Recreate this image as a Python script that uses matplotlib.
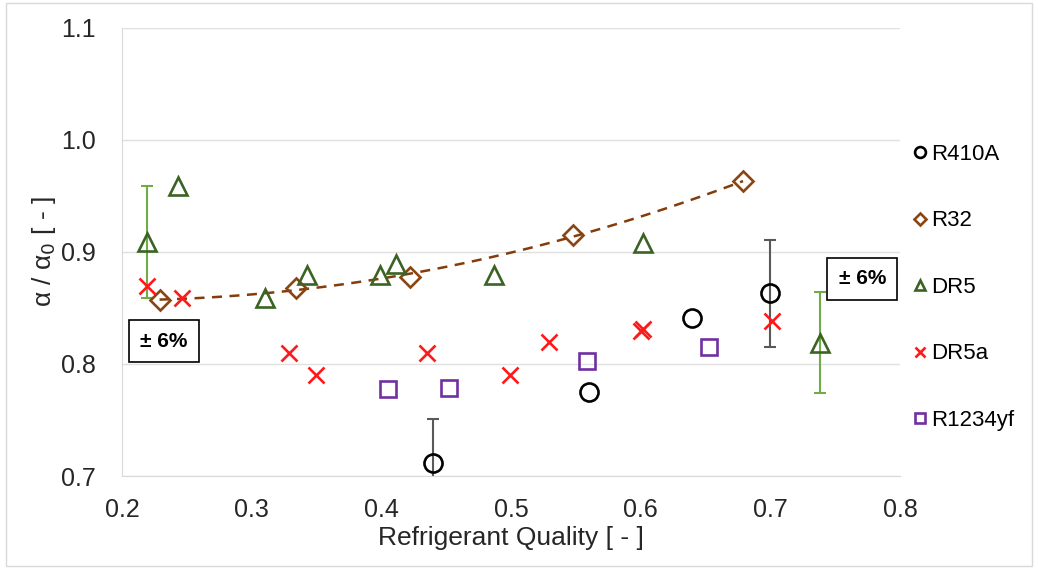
import matplotlib
matplotlib.use('Agg')
import matplotlib.pyplot as plt
import numpy as np
from matplotlib.patches import Rectangle

plt.rcParams['font.family'] = ['Liberation Sans', 'DejaVu Sans']

######################################################################

# DATA

r410a_x = [0.44, 0.56, 0.64, 0.70]
r410a_y = [0.712, 0.775, 0.841, 0.863]

r32_x = [0.229, 0.334, 0.422, 0.548, 0.679]
r32_y = [0.857, 0.868, 0.878, 0.915, 0.963]

dr5_x = [0.219, 0.243, 0.310, 0.343, 0.399, 0.411, 0.487, 0.602, 0.738]
dr5_y = [0.909, 0.959, 0.859, 0.879, 0.879, 0.889, 0.879, 0.908, 0.819]

dr5a_x = [0.219, 0.246, 0.329, 0.350, 0.435, 0.499, 0.529, 0.600, 0.602, 0.701]
dr5a_y = [0.870, 0.859, 0.810, 0.790, 0.810, 0.790, 0.820, 0.829, 0.831, 0.838]

r1234yf_x = [0.405, 0.452, 0.559, 0.653]
r1234yf_y = [0.778, 0.779, 0.803, 0.815]

# points that carry the +/- 6% error bars (index into series)
r410a_err_idx = [0, 3]
dr5_err_idx = [0, 8]
err_frac = 0.055

######################################################################

fig = plt.figure(figsize=(10.38, 5.69), dpi=100)
ax = fig.add_axes([0.1175, 0.1634, 0.7495, 0.7876])

# outer frame of the picture
fig.patches.append(Rectangle((0.006, 0.006), 0.988, 0.988, transform=fig.transFigure,
                             fill=False, edgecolor='#D9D9D9', linewidth=1.0))

mk = dict(linestyle='none', markerfacecolor='none', markeredgewidth=1.9)

ax.plot(r410a_x, r410a_y, marker='o', color='black', label='R410A', markersize=13, **mk)
ax.plot(r32_x, r32_y, marker='D', color='#8B4513', label='R32', markersize=10, **mk)
ax.plot(dr5_x, dr5_y, marker='^', color='#3B6424', label='DR5', markersize=13, **mk)
ax.plot(dr5a_x, dr5a_y, marker='x', color='#FF1A1A', label='DR5a',
        linestyle='none', markersize=11, markeredgewidth=1.9)
ax.plot(r1234yf_x, r1234yf_y, marker='s', color='#7030A0', label='R1234yf', markersize=12, **mk)

# trend line through the R32 points
coef = np.polyfit(r32_x, r32_y, 2)
xt = np.linspace(min(r32_x), max(r32_x), 100)
ax.plot(xt, np.polyval(coef, xt), linestyle=(0, (4, 3)), color='#843C0C', linewidth=1.8, zorder=1)

# error bars
ex = [r410a_x[i] for i in r410a_err_idx]
ey = [r410a_y[i] for i in r410a_err_idx]
ax.errorbar(ex, ey, yerr=[v * err_frac for v in ey], fmt='none', ecolor='#595959',
            elinewidth=1.5, capsize=4, capthick=1.5, zorder=1)
ex = [dr5_x[i] for i in dr5_err_idx]
ey = [dr5_y[i] for i in dr5_err_idx]
ax.errorbar(ex, ey, yerr=[v * err_frac for v in ey], fmt='none', ecolor='#70AD47',
            elinewidth=1.5, capsize=4, capthick=1.5, zorder=1)

box = dict(boxstyle='square,pad=0.55', facecolor='white', edgecolor='black', linewidth=1.2)
ax.text(0.2325, 0.8205, '± 6%', fontsize=15, fontweight='bold', ha='center', va='center', bbox=box)
ax.text(0.771, 0.876, '± 6%', fontsize=15, fontweight='bold', ha='center', va='center', bbox=box)

ax.set_xlim(0.2, 0.8)
ax.set_ylim(0.7, 1.1)
ax.set_xticks(np.arange(0.2, 0.81, 0.1))
ax.set_yticks(np.arange(0.7, 1.11, 0.1))
ax.xaxis.set_major_formatter(matplotlib.ticker.FormatStrFormatter('%.1f'))
ax.yaxis.set_major_formatter(matplotlib.ticker.FormatStrFormatter('%.1f'))
ax.tick_params(length=0, labelsize=18, colors='#262626')
ax.tick_params(axis='x', pad=16)
ax.tick_params(axis='y', pad=19)
ax.grid(axis='y', color='#E0E0E0', linewidth=1)
ax.set_axisbelow(True)
for s in ['top', 'right']:
    ax.spines[s].set_visible(False)
for s in ['left', 'bottom']:
    ax.spines[s].set_color('#D9D9D9')

ax.set_xlabel('Refrigerant Quality [ - ]', fontsize=19, color='#262626', labelpad=3)
ax.set_ylabel(r'α / α$_0$ [ - ]', fontsize=19, color='#262626', labelpad=2)

fig.legend(loc='upper left', bbox_to_anchor=(0.872, 0.763), frameon=False, fontsize=16,
           labelspacing=2.05, handlelength=0.55, handletextpad=0.2, markerscale=0.6,
           borderaxespad=0)

fig.savefig('out.png', dpi=100)
